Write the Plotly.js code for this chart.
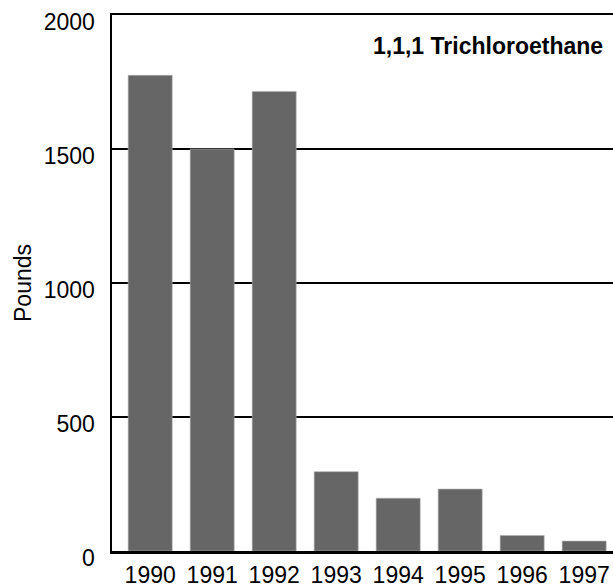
<!DOCTYPE html>
<html>
<head>
<meta charset="utf-8">
<script src="https://cdn.plot.ly/plotly-3.0.1.min.js"></script>
<style>html,body{margin:0;padding:0;background:#fff;}#chart{width:613px;height:588px;}</style>
</head>
<body>
<div id="chart"></div>
<script>
const years = ["1990", "1991", "1992", "1993", "1994", "1995", "1996", "1997"];
const pounds = [1775, 1500, 1715, 296, 197, 231, 58, 37];
const yTicks = [0, 500, 1000, 1500, 2000];
const chartTitle = "1,1,1 Trichloroethane";
const yTitle = "Pounds";

const FONT = "'Liberation Sans', Arial, sans-serif";

const trace = {
  type: "bar",
  x: years.map((_, i) => i),
  y: pounds,
  marker: {color: "#666666", line: {color: "#b0b0b0", width: 0.6}},
  width: 0.71,
  hoverinfo: "skip"
};

const layout = {
  width: 613, height: 588,
  margin: {l: 112, r: 0, t: 15, b: 37, pad: 0},
  paper_bgcolor: "#ffffff",
  plot_bgcolor: "#ffffff",
  showlegend: false,
  font: {family: FONT, size: 23, color: "#000"},
  xaxis: {
    range: [-0.616, 7.465],
    tickvals: years.map((_, i) => i),
    ticktext: years,
    showgrid: false,
    zeroline: false,
    showline: true, linecolor: "#000", linewidth: 2.5,
    mirror: true,
    ticks: "",
    ticklabelstandoff: 2,
    layer: "below traces",
    tickfont: {family: FONT, size: 23, color: "#000"},
    fixedrange: true
  },
  yaxis: {
    range: [0, 2000],
    tickvals: yTicks,
    ticktext: yTicks.map(String),
    showgrid: true, gridcolor: "#000", gridwidth: 1.5,
    zeroline: false,
    showline: true, linecolor: "#000", linewidth: 2.5,
    ticks: "",
    ticklabelstandoff: 10,
    ticklabelshift: 7,
    layer: "below traces",
    tickfont: {family: FONT, size: 23, color: "#000"},
    title: {text: yTitle, font: {family: FONT, size: 23, color: "#000"}, standoff: 6},
    automargin: false,
    fixedrange: true
  },
  annotations: [{
    text: "<b>" + chartTitle + "</b>",
    xref: "paper", yref: "paper",
    x: 0.984, y: 0.942,
    xanchor: "right", yanchor: "middle",
    showarrow: false,
    font: {family: FONT, size: 23, color: "#000"}
  }]
};

Plotly.newPlot("chart", [trace], layout, {displayModeBar: false, staticPlot: true});
</script>
</body>
</html>
